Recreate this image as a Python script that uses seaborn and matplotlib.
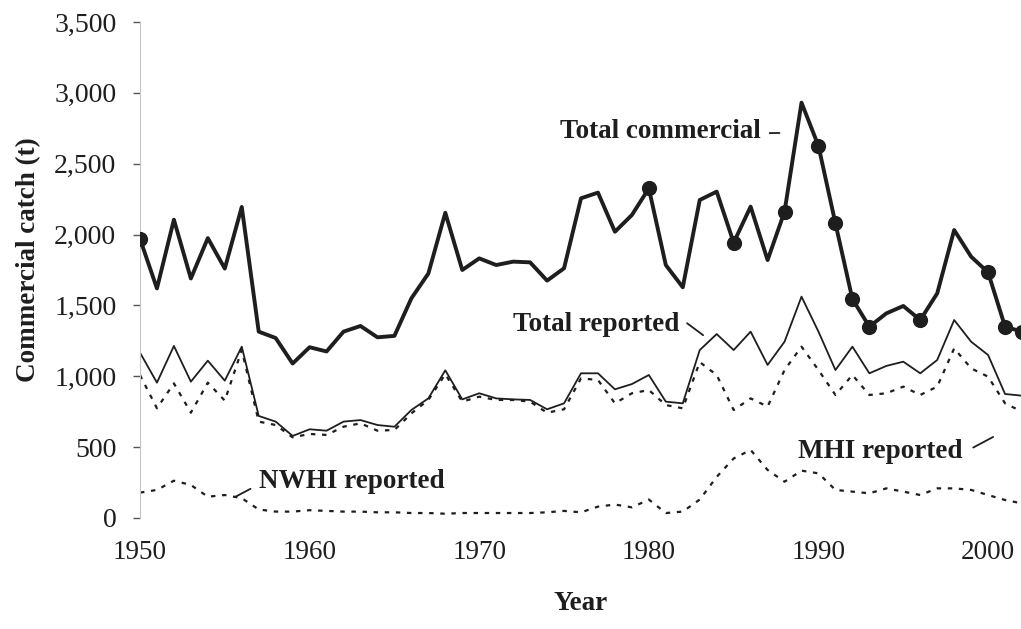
import numpy as np
import pandas as pd
import matplotlib
matplotlib.use("Agg")
import matplotlib.pyplot as plt
from matplotlib.ticker import FuncFormatter
import seaborn as sns

# Datos (toneladas)
years = list(range(1950, 2003))

total_commercial = [1970, 1620, 2105, 1690, 1975, 1760, 2195, 1315, 1270, 1090,
                    1205, 1175, 1315, 1355, 1275, 1285, 1550, 1725, 2154, 1750,
                    1832, 1785, 1809, 1804, 1675, 1762, 2256, 2296, 2020, 2138,
                    2326, 1785, 1628, 2244, 2303, 1943, 2197, 1820, 2162, 2931,
                    2625, 2079, 1545, 1350, 1444, 1496, 1397, 1585, 2032, 1844,
                    1733, 1350, 1315]

total_reported = [1167, 955, 1214, 962, 1110, 969, 1209, 720, 680, 579,
                  626, 616, 680, 691, 656, 644, 762, 844, 1042, 837,
                  880, 844, 837, 833, 767, 809, 1021, 1021, 908, 945,
                  1009, 821, 809, 1185, 1298, 1185, 1315, 1080, 1244, 1562,
                  1315, 1044, 1209, 1021, 1073, 1103, 1021, 1115, 1397, 1244,
                  1150, 875, 863]

mhi_reported = [1009, 774, 950, 743, 955, 828, 1185, 680, 656, 569,
                593, 586, 644, 668, 616, 621, 738, 833, 1015, 821,
                856, 833, 833, 821, 743, 767, 985, 974, 809, 880,
                903, 797, 774, 1100, 1009, 762, 844, 786, 1044, 1209,
                1044, 868, 1009, 868, 880, 927, 868, 927, 1197, 1056,
                997, 809, 750]

nwhi_reported = [179, 198, 263, 233, 150, 162, 140, 60, 45, 45,
                 55, 50, 45, 45, 40, 40, 35, 35, 30, 35,
                 35, 35, 35, 35, 40, 50, 40, 80, 95, 75,
                 130, 35, 45, 130, 290, 420, 480, 339, 256, 334,
                 315, 198, 186, 174, 209, 186, 162, 209, 209, 198,
                 162, 127, 103]

# anos con punto destacado en la serie total
marker_years = [1950, 1980, 1985, 1988, 1990, 1991, 1992, 1993, 1996, 2000, 2001, 2002]

df = pd.DataFrame({
    'year': years,
    'total_commercial': total_commercial,
    'total_reported': total_reported,
    'mhi_reported': mhi_reported,
    'nwhi_reported': nwhi_reported,
})
df_marks = df[df['year'].isin(marker_years)]

sns.set_style("white")
plt.rcParams['font.family'] = ['Liberation Serif', 'DejaVu Serif']

ink = '#1e1e1e'
fig = plt.figure(figsize=(10.21, 6.29), dpi=100)
ax = fig.add_axes([0.1371, 0.1765, 0.8639, 0.7885])

sns.lineplot(data=df, x='year', y='total_commercial', ax=ax, color=ink, lw=2.8)
sns.scatterplot(data=df_marks, x='year', y='total_commercial', ax=ax, color=ink,
                s=120, edgecolor=ink, linewidth=0, zorder=5)
sns.lineplot(data=df, x='year', y='total_reported', ax=ax, color=ink, lw=1.3)
sns.lineplot(data=df, x='year', y='mhi_reported', ax=ax, color=ink, lw=1.6,
             linestyle=(0, (2, 3)))
sns.lineplot(data=df, x='year', y='nwhi_reported', ax=ax, color=ink, lw=1.6,
             linestyle=(0, (2, 3)))

ax.set_xlim(1950, 2002)
ax.set_ylim(0, 3500)
ax.set_xticks([1950, 1960, 1970, 1980, 1990, 2000])
ax.set_yticks(np.arange(0, 3501, 500))
ax.yaxis.set_major_formatter(FuncFormatter(lambda v, p: f"{int(v):,}"))

for s in ['top', 'right', 'bottom']:
    ax.spines[s].set_visible(False)
ax.spines['left'].set_color('#c4c4c4')
ax.spines['left'].set_linewidth(0.8)

ax.tick_params(axis='x', length=0, pad=16, labelsize=19.5, labelcolor=ink)
ax.tick_params(axis='y', length=5, width=1, color='#555555', pad=12,
               labelsize=20, labelcolor=ink, left=True)

ax.set_xlabel('Year', fontsize=19.5, fontweight='bold', color=ink)
ax.set_ylabel('Commercial catch (t)', fontsize=19.5, fontweight='bold', color=ink)
ax.xaxis.set_label_coords(0.5, -0.148)
ax.yaxis.set_label_coords(-0.112, 0.52)

# etiquetas de las series
lab = dict(fontsize=19.5, fontweight='bold', color=ink, va='center')
line = dict(arrowstyle='-', color=ink, lw=1.3, shrinkB=0)
ax.annotate('Total commercial', xy=(1987.7, 2717), xytext=(1986.6, 2724), ha='right',
            arrowprops=dict(line, relpos=(1.0, 0.45), shrinkA=4), **lab)
ax.annotate('Total reported', xy=(1983.2, 1290), xytext=(1981.8, 1362), ha='right',
            arrowprops=dict(line, relpos=(1.0, 0.8), shrinkA=4), **lab)
ax.annotate('MHI reported', xy=(2000.3, 572), xytext=(1988.8, 466), ha='left',
            arrowprops=dict(line, relpos=(1.0, 0.45), shrinkA=6), **lab)
ax.annotate('NWHI reported', xy=(1955.6, 148), xytext=(1957.0, 254), ha='left',
            arrowprops=dict(line, relpos=(0.0, 0.4), shrinkA=4), **lab)

plt.savefig('out.png', dpi=100)
